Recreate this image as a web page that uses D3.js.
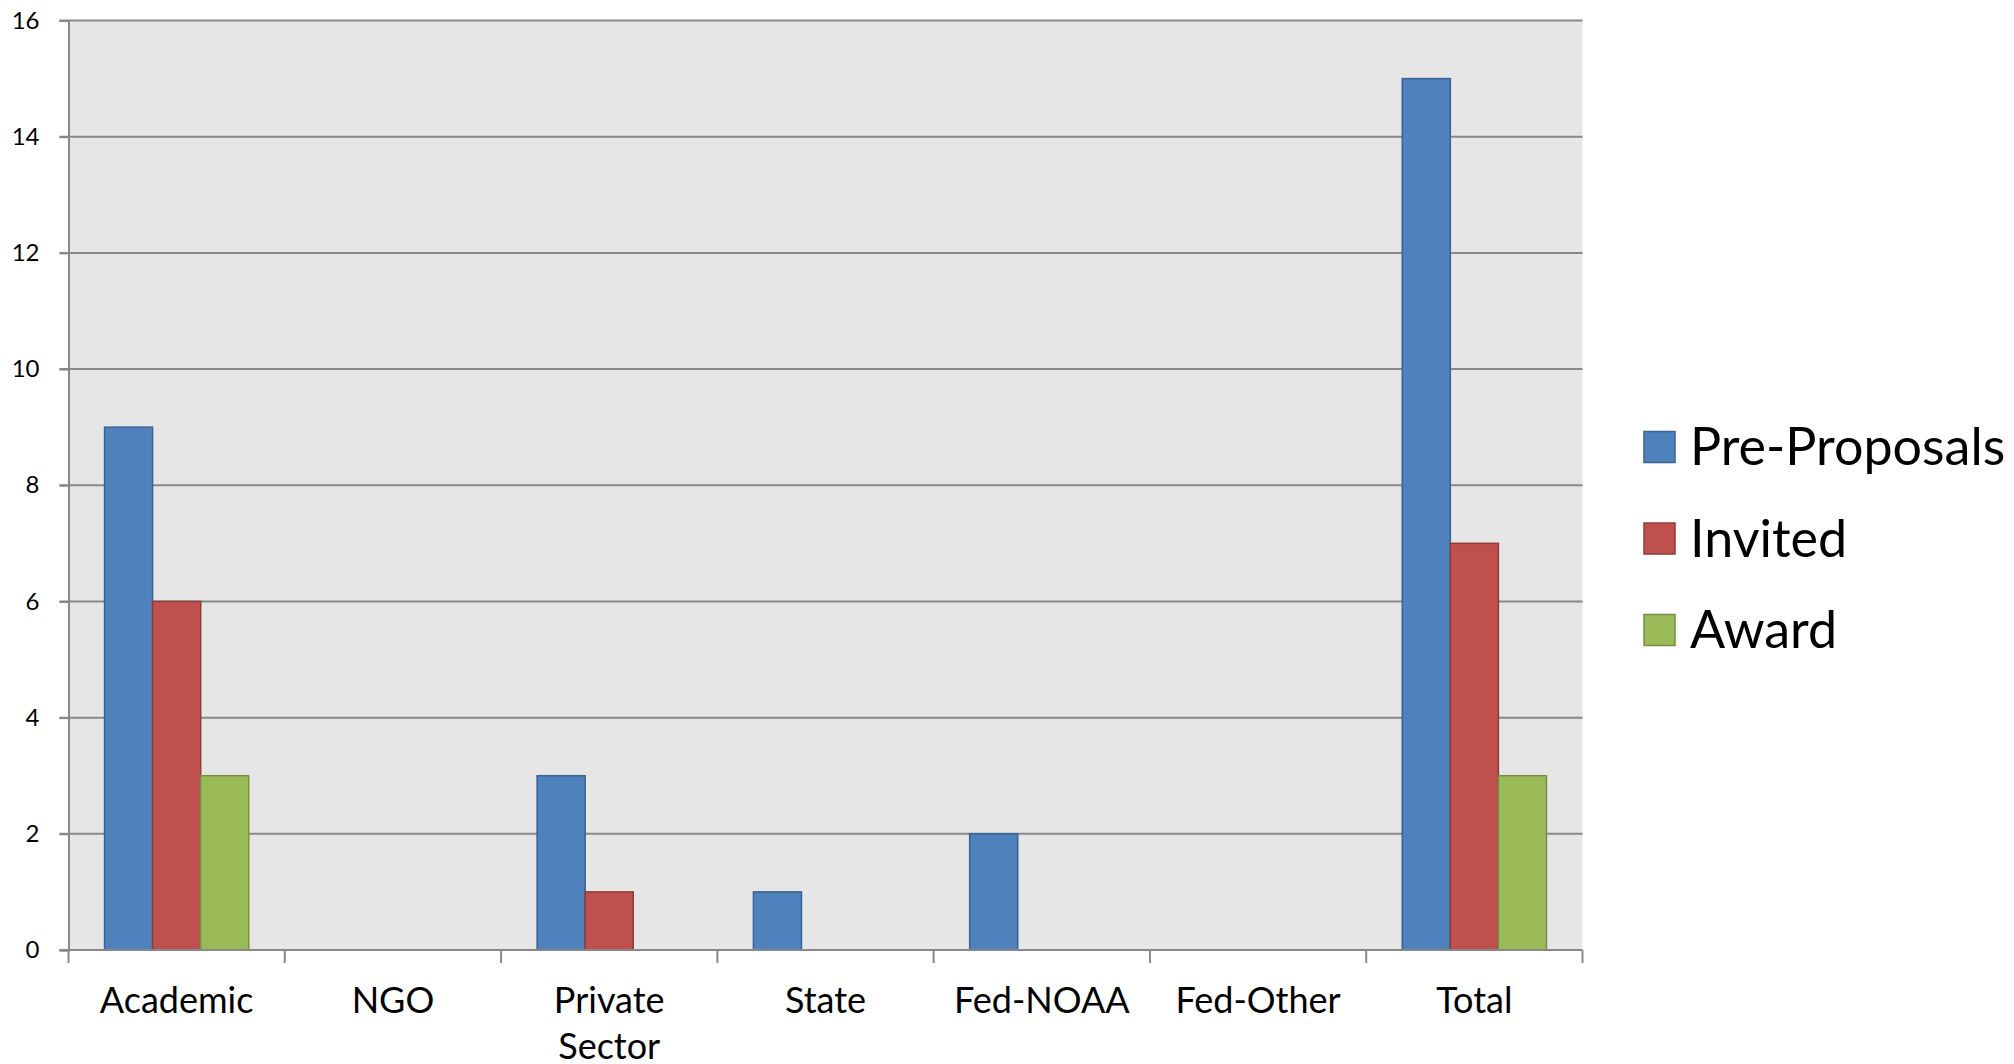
<!DOCTYPE html>
<html>
<head>
<meta charset="utf-8">
<script src="https://cdn.jsdelivr.net/npm/d3@7"></script>
<style>
  html, body { margin: 0; padding: 0; background: #ffffff; }
  svg { display: block; }
  text { font-family: Lato, "Open Sans", sans-serif; fill: #000; }
</style>
</head>
<body>
<script>
// ---- data ----
const categories = ["Academic", "NGO", "Private Sector", "State", "Fed-NOAA", "Fed-Other", "Total"];
const seriesNames = ["Pre-Proposals", "Invited", "Award"];
const preProposals = [9, 0, 3, 1, 2, 0, 15];
const invited      = [6, 0, 1, 0, 0, 0, 7];
const award        = [3, 0, 0, 0, 0, 0, 3];
const yTicks = [0, 2, 4, 6, 8, 10, 12, 14, 16];

const seriesValues = [preProposals, invited, award];
const fills   = ["#4F81BD", "#C0504D", "#9BBB59"];
const strokes = ["#3A6394", "#8E3B39", "#76903F"];

const W = 2014, H = 1064;
const margin = { left: 68.5, right: W - 1582.5, top: 20.5, bottom: H - 950 };

const svg = d3.select("body").append("svg").attr("width", W).attr("height", H);

const x = d3.scaleBand().domain(categories).range([margin.left, W - margin.right]).paddingInner(0).paddingOuter(0);
const y = d3.scaleLinear().domain([0, 16]).range([H - margin.bottom, margin.top]);

// plot background
svg.append("rect")
  .attr("x", margin.left).attr("y", margin.top)
  .attr("width", W - margin.left - margin.right)
  .attr("height", H - margin.top - margin.bottom)
  .attr("fill", "#E6E6E6");

// grid lines
const gridColor = "#888888";
svg.append("g").selectAll("line").data(yTicks.filter(d => d > 0)).join("line")
  .attr("x1", margin.left - 9).attr("x2", W - margin.right)
  .attr("y1", d => y(d)).attr("y2", d => y(d))
  .attr("stroke", gridColor).attr("stroke-width", 2);

// y axis
const yAxis = svg.append("g").attr("transform", `translate(${margin.left},0)`)
  .call(d3.axisLeft(y).tickValues(yTicks).tickSize(9).tickPadding(20).tickFormat(d3.format("d")));
yAxis.select(".domain").attr("stroke", gridColor).attr("stroke-width", 2);
yAxis.selectAll(".tick line").attr("stroke", gridColor).attr("stroke-width", 2);
yAxis.selectAll(".tick text").attr("font-size", 24).attr("font-family", "Lato, sans-serif").attr("fill", "#000");

// bars
const groupPad = x.bandwidth() * 1.5 / 4.5 / 2;
const x1 = d3.scaleBand().domain(d3.range(seriesNames.length)).range([groupPad, x.bandwidth() - groupPad]);

seriesValues.forEach((vals, si) => {
  svg.append("g").selectAll("rect").data(vals.map((v, i) => ({ v, c: categories[i] })).filter(d => d.v > 0)).join("rect")
    .attr("x", d => x(d.c) + x1(si))
    .attr("width", x1.bandwidth())
    .attr("y", d => y(d.v))
    .attr("height", d => y(0) - y(d.v))
    .attr("fill", fills[si])
    .attr("stroke", strokes[si])
    .attr("stroke-width", 1.5);
});

// x axis
const xAxisG = svg.append("g").attr("transform", `translate(0,${y(0)})`);
xAxisG.append("line").attr("x1", margin.left - 9).attr("x2", W - margin.right)
  .attr("stroke", gridColor).attr("stroke-width", 2);
const bounds = categories.map(c => x(c)).concat([x(categories[categories.length - 1]) + x.bandwidth()]);
xAxisG.selectAll("line.tk").data(bounds).join("line").attr("class", "tk")
  .attr("x1", d => d).attr("x2", d => d).attr("y1", 0).attr("y2", 13)
  .attr("stroke", gridColor).attr("stroke-width", 2);

// category labels (wrap)
const wrapMap = { "Private Sector": ["Private", "Sector"] };
const lab = xAxisG.selectAll("text.cat").data(categories).join("text").attr("class", "cat")
  .attr("text-anchor", "middle")
  .attr("font-size", 36)
  .attr("transform", d => `translate(${x(d) + x.bandwidth() / 2},63)`);
lab.each(function(d) {
  const lines = wrapMap[d] || [d];
  d3.select(this).selectAll("tspan").data(lines).join("tspan")
    .attr("x", 0).attr("dy", (l, i) => i === 0 ? 0 : 46).text(l => l);
});

// legend
const legend = svg.append("g");
const legY = [447, 538.5, 630];
seriesNames.forEach((n, i) => {
  legend.append("rect").attr("x", 1644).attr("y", legY[i] - 15.5).attr("width", 31).attr("height", 31)
    .attr("fill", fills[i]).attr("stroke", strokes[i]).attr("stroke-width", 1.5);
  legend.append("text").attr("x", 1690).attr("y", legY[i] + 18).attr("font-size", 52).text(n);
});
</script>
</body>
</html>
